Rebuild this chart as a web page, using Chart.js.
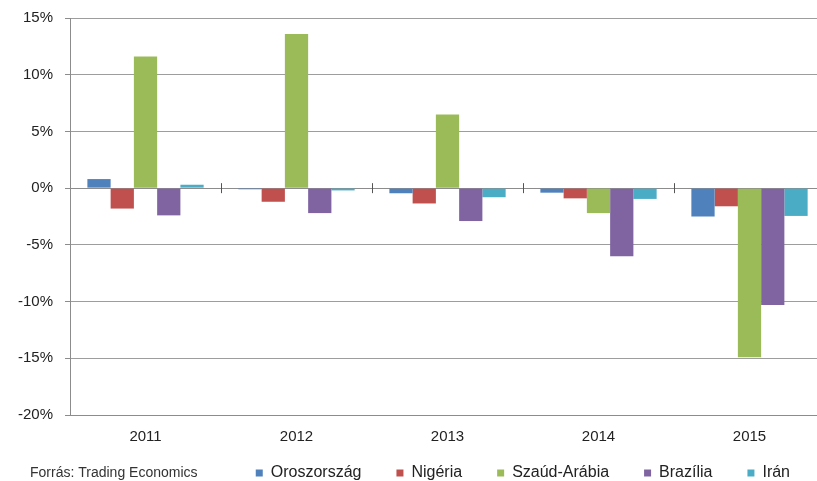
<!DOCTYPE html>
<html>
<head>
<meta charset="utf-8">
<script src="https://cdn.jsdelivr.net/npm/chart.js@4/dist/chart.umd.min.js"></script>
<style>
  html, body { margin: 0; padding: 0; background: #fff; overflow: hidden; }
  #wrap { width: 817px; height: 481px; overflow: hidden; }
</style>
</head>
<body>
<div id="wrap"><canvas id="myChart" width="825" height="481"></canvas></div>
<script>
// years on the x axis
const years = ['2011', '2012', '2013', '2014', '2015'];

// yearly change, %
const oroszorszag = [0.8, -0.1, -0.45, -0.4, -2.5];
const nigeria = [-1.8, -1.2, -1.35, -0.9, -1.6];
const szaudArabia = [11.6, 13.6, 6.5, -2.2, -14.9];
const brazilia = [-2.4, -2.2, -2.9, -6.0, -10.3];
const iran = [0.3, -0.2, -0.8, -0.95, -2.45];

const yTicks = [-20, -15, -10, -5, 0, 5, 10, 15];
const source = 'Forrás: Trading Economics';

const gridGray = '#9d9d9d';
const axisGray = '#8c8c8c';
const textColor = '#222';

// small tick marks on the zero line between years + source note
const extras = {
	id: 'extras',
	afterDatasetsDraw(chart) {
		const ctx = chart.ctx;
		const x = chart.scales.x;
		const y = chart.scales.y;
		const y0 = y.getPixelForValue(0);
		ctx.save();
		ctx.strokeStyle = '#555';
		ctx.lineWidth = 1;
		for (let i = 0; i < years.length - 1; i++) {
			let px = Math.round((x.getPixelForValue(i) + x.getPixelForValue(i + 1)) / 2) + 0.5;
			ctx.beginPath();
			ctx.moveTo(px, y0 - 5);
			ctx.lineTo(px, y0 + 5);
			ctx.stroke();
		}
		ctx.fillStyle = '#333';
		ctx.font = '14px "Liberation Sans", Arial, sans-serif';
		ctx.textBaseline = 'middle';
		ctx.textAlign = 'left';
		ctx.fillText(source, 30, 473);
		ctx.restore();
	}
};

let ctx = document.getElementById('myChart').getContext('2d');
let myChart = new Chart(ctx, {
	type: 'bar',
	data: {
		labels: years,
		datasets: [
			{ label: 'Oroszország', data: oroszorszag, backgroundColor: '#4f81bd' },
			{ label: 'Nigéria', data: nigeria, backgroundColor: '#c0504d' },
			{ label: 'Szaúd-Arábia', data: szaudArabia, backgroundColor: '#9bbb59' },
			{ label: 'Brazília', data: brazilia, backgroundColor: '#8064a2' },
			{ label: 'Irán', data: iran, backgroundColor: '#4bacc6' }
		]
	},
	options: {
		responsive: false,
		animation: false,
		layout: { padding: { top: 18, left: 6, right: 0, bottom: -10 } },
		datasets: {
			bar: { categoryPercentage: 0.77, barPercentage: 1.0, borderWidth: 0 }
		},
		scales: {
			x: {
				grid: { display: false, drawTicks: false },
				border: { display: true, color: axisGray },
				ticks: {
					// mirrored so the labels are not clipped to the squeezed axis box
					mirror: true,
					padding: -31,
					color: textColor,
					font: { family: '"Liberation Sans", Arial, sans-serif', size: 15 }
				},
				afterFit(scale) { scale.height = 15; }
			},
			y: {
				min: -20,
				max: 15,
				afterBuildTicks(scale) { scale.ticks = yTicks.map(v => ({ value: v })); },
				afterFit(scale) { scale.paddingTop = 0; },
				grid: {
					color: (c) => (c.tick && c.tick.value === 0) ? axisGray : gridGray,
					tickLength: 5,
					tickColor: axisGray
				},
				border: { display: true, color: axisGray },
				ticks: {
					padding: 12,
					color: textColor,
					font: { family: '"Liberation Sans", Arial, sans-serif', size: 15 },
					callback: (v) => v + '%'
				}
			}
		},
		plugins: {
			legend: {
				position: 'bottom',
				align: 'end',
				labels: {
					boxWidth: 7,
					boxHeight: 7,
					padding: 35,
					color: textColor,
					font: { family: '"Liberation Sans", Arial, sans-serif', size: 16 }
				}
			},
			tooltip: { enabled: false }
		}
	},
	plugins: [extras]
});
</script>
</body>
</html>
